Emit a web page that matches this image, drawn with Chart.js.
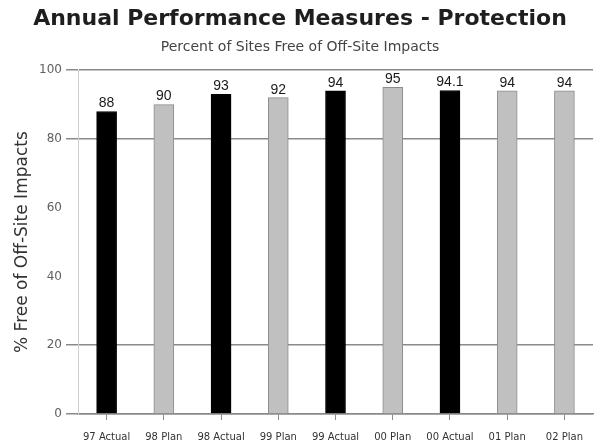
<!DOCTYPE html>
<html>
<head>
<meta charset="utf-8">
<script src="https://cdn.jsdelivr.net/npm/chart.js@4/dist/chart.umd.min.js"></script>
<style>
  body { margin: 0; background: #fff; }
  #wrap { width: 594px; height: 446px; }
</style>
</head>
<body>
<div id="wrap"><canvas id="perfChart" width="594" height="446"></canvas></div>
<script>
var categories = ['97 Actual', '98 Plan', '98 Actual', '99 Plan', '99 Actual', '00 Plan', '00 Actual', '01 Plan', '02 Plan'];
var pctFree = [88, 90, 93, 92, 94, 95, 94.1, 94, 94];
var isActual = [true, false, true, false, true, false, true, false, false];
var yTicksShown = [0, 20, 40, 60, 80, 100];
var yLinesShown = [0, 20, 80, 100];

var FONT = '"DejaVu Sans", Arial, sans-serif';

var barColors = isActual.map(function(a) { return a ? '#000000' : '#c0c0c0'; });
var edgeColors = isActual.map(function(a) { return a ? '#000000' : '#8c8c8c'; });

// value printed on top of every bar
var valueLabels = {
    id: 'valueLabels',
    afterDatasetsDraw: function(chart) {
        var ctx = chart.ctx;
        var meta = chart.getDatasetMeta(0);
        ctx.save();
        ctx.font = '14px "Liberation Sans", Arial, sans-serif';
        ctx.fillStyle = '#1a1a1a';
        ctx.textAlign = 'center';
        ctx.textBaseline = 'bottom';
        meta.data.forEach(function(bar, i) {
            ctx.fillText(String(pctFree[i]), bar.x, bar.y - 1);
        });
        ctx.restore();
    }
};

new Chart(document.getElementById('perfChart'), {
    type: 'bar',
    data: {
        labels: categories,
        datasets: [{
            data: pctFree,
            backgroundColor: barColors,
            borderColor: edgeColors,
            borderWidth: 1,
            barThickness: 20
        }]
    },
    options: {
        responsive: false,
        animation: false,
        layout: { padding: { left: 6, right: 0, top: 0, bottom: 1 } },
        plugins: {
            legend: { display: false },
            tooltip: { enabled: false },
            title: {
                display: true,
                text: 'Annual Performance Measures - Protection',
                color: '#1e1e1e',
                font: { family: FONT, size: 22, weight: 'bold' },
                padding: { top: 6, bottom: 7 }
            },
            subtitle: {
                display: true,
                text: 'Percent of Sites Free of Off-Site Impacts',
                color: '#444444',
                font: { family: FONT, size: 14 },
                padding: { top: 0, bottom: 14 }
            }
        },
        scales: {
            x: {
                afterFit: function(scale) { scale.height = 31; },
                grid: {
                    display: true,
                    offset: false,
                    drawOnChartArea: false,
                    tickLength: 6,
                    tickColor: '#8a8a8a'
                },
                border: { color: '#8a8a8a', width: 1.5 },
                ticks: {
                    color: '#333333',
                    maxRotation: 0,
                    autoSkip: false,
                    padding: 11,
                    font: { family: FONT, size: 10 }
                }
            },
            y: {
                min: 0,
                max: 100,
                afterBuildTicks: function(scale) {
                    scale.ticks = yTicksShown.map(function(v) { return { value: v }; });
                },
                afterFit: function(scale) { scale.width = 72; },
                grid: {
                    tickLength: 12,
                    lineWidth: 1.5,
                    color: function(c) {
                        return yLinesShown.indexOf(c.tick && c.tick.value) >= 0 ? '#8a8a8a' : 'rgba(0,0,0,0)';
                    },
                    tickColor: function(c) {
                        return yLinesShown.indexOf(c.tick && c.tick.value) >= 0 ? '#8a8a8a' : 'rgba(0,0,0,0)';
                    }
                },
                border: { color: '#cfcfcf', width: 1 },
                ticks: {
                    color: '#606060',
                    padding: 4,
                    font: { family: FONT, size: 12 }
                },
                title: {
                    display: true,
                    text: '% Free of Off-Site Impacts',
                    color: '#333333',
                    padding: { top: 6, bottom: 4 },
                    font: { family: FONT, size: 17 }
                }
            }
        }
    },
    plugins: [valueLabels]
});
</script>
</body>
</html>
